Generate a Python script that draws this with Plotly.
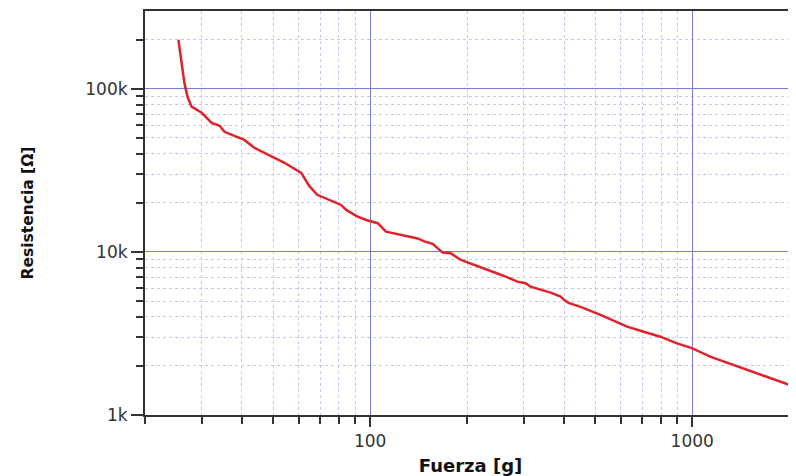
import plotly.graph_objects as go
import math

# Data (force in g, resistance in ohm)
fuerza_g = [25.4, 25.8, 26.2, 26.5, 27.1, 27.9, 30.0, 32.2, 34.1, 35.3, 37.9, 40.7, 43.7,
            48.3, 54.2, 61.1, 62.9, 64.7, 68.5, 74.7, 81.3, 84.3, 91.1, 97.2, 105.6, 112,
            118.9, 140.5, 147.3, 156.4, 168, 178.1, 191.3, 210.3, 225.9, 260.5, 286.6, 304,
            315, 363.4, 390.3, 399.6, 413, 450, 519, 584.7, 628, 707, 796, 896.6, 997.9,
            1137, 1343, 1662, 2001]
resistencia_ohm = [200000, 161700, 130800, 109000, 89300, 77700, 71300, 61800, 59300, 54500,
                   51500, 48600, 43500, 39300, 35200, 30500, 27700, 25400, 22400, 20800,
                   19400, 18100, 16500, 15700, 15000, 13300, 13000, 12100, 11600, 11200,
                   9900, 9800, 8930, 8320, 7940, 7120, 6570, 6430, 6120, 5630, 5320, 5080,
                   4870, 4600, 4110, 3680, 3480, 3240, 3020, 2750, 2570, 2280, 2030, 1760, 1530]

x_major_vals = [100, 1000]
x_major_text = ["100", "1000"]
y_major_vals = [1000, 10000, 100000]
y_major_text = ["1k", "10k", "100k"]
x_minor_vals = [20, 30, 40, 50, 60, 70, 80, 90, 200, 300, 400, 500, 600, 700, 800, 900, 2000]
y_minor_vals = [2000, 3000, 4000, 5000, 6000, 7000, 8000, 9000,
                20000, 30000, 40000, 50000, 60000, 70000, 80000, 90000, 200000]

x_range = [20, 2100]
y_range = [1000, 300000]

fig = go.Figure()
fig.add_trace(go.Scatter(
    x=fuerza_g, y=resistencia_ohm, mode="lines",
    line=dict(color="#e0222b", width=2.5), showlegend=False,
))

font_fam = "DejaVu Sans, Arial, sans-serif"
# the page body adds an 8px margin, so the figure is sized to fill the rest
fig.update_layout(
    width=788, height=468,
    margin=dict(l=137, r=0, t=3, b=61),
    paper_bgcolor="white", plot_bgcolor="white",
    font=dict(family=font_fam, color="#333"),
)
fig.update_xaxes(
    type="log", range=[math.log10(x_range[0]), math.log10(x_range[1])],
    tickmode="array", tickvals=x_major_vals, ticktext=x_major_text,
    ticks="outside", ticklen=10, tickwidth=2, tickcolor="#333",
    tickfont=dict(size=17, color="#333"),
    showline=True, linecolor="#333", linewidth=2, mirror=True,
    showgrid=True, gridcolor="#7a7ade", gridwidth=1,
    zeroline=False,
    minor=dict(tickmode="array", tickvals=x_minor_vals, ticks="outside", ticklen=7,
               tickwidth=2, tickcolor="#333", showgrid=True, gridcolor="#c6c6f2",
               gridwidth=1, griddash="dot"),
    title=dict(text="<b>Fuerza [g]</b>", font=dict(size=18, color="#111"), standoff=12),
    automargin=False,
)
fig.update_yaxes(
    type="log", range=[math.log10(y_range[0]), math.log10(y_range[1])],
    tickmode="array", tickvals=y_major_vals, ticktext=y_major_text,
    ticks="outside", ticklen=12, tickwidth=2, tickcolor="#333",
    tickfont=dict(size=17, color="#333"),
    showline=True, linecolor="#333", linewidth=2,
    showgrid=True, gridcolor="#7a7ade", gridwidth=1,
    zeroline=False,
    minor=dict(tickmode="array", tickvals=y_minor_vals, ticks="outside", ticklen=7,
               tickwidth=2, tickcolor="#333", showgrid=True, gridcolor="#c6c6f2",
               gridwidth=1, griddash="dot"),
    title=dict(text="<b>Resistencia [Ω]</b>", font=dict(size=15.5, color="#111"), standoff=48),
    automargin=False,
)

fig.write_html("out.html")
